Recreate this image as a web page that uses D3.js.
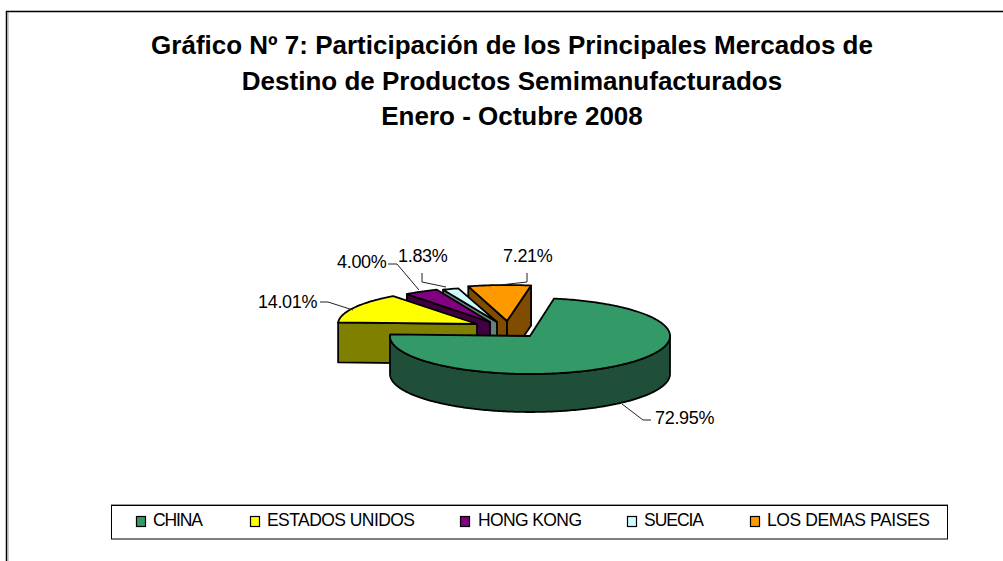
<!DOCTYPE html>
<html><head><meta charset="utf-8">
<script src="https://cdn.jsdelivr.net/npm/d3@7"></script>
<style>html,body{margin:0;padding:0;background:#fff}svg{display:block}text{font-family:"Liberation Sans",Arial,sans-serif;fill:#000}</style>
</head><body><svg id="c" width="1003" height="561"></svg>
<script>
const categories = ["CHINA","ESTADOS UNIDOS","HONG KONG","SUECIA","LOS DEMAS PAISES"];
const shares = [72.95,14.01,4.00,1.83,7.21];
const shareLabels = ["72.95%","14.01%","4.00%","1.83%","7.21%"];
const topColors = ["#339966","#ffff00","#800080","#ccffff","#ff9900"];
const sideColors = ["#1f4f38","#808000","#400040","#668080","#804d00"];
const titleLines = ["Gráfico Nº 7: Participación de los Principales Mercados de","Destino de Productos Semimanufacturados","Enero - Octubre 2008"];
// layout (not data)
const centers = [[530,336,140,38,38],[477,324,139,35,40],[490,322,138,35,40],[497,322,140,35,40],[507,321,140,36,40]];
const legendSwatchX = [136,250,460,627,750];
const legendTextX = [153,267,478,644,767];
const legendTextW = [50,148,104,60,163];
const labelPos = [[655,424],[258,308],[337,268],[398,262],[503,262]];
const leaders = [
 [[622,404],[643,420],[651,420]],
 [[353,310],[328,302],[320,302]],
 [[419,290],[397,264],[388,264]],
 [[422,273],[422,282],[446,287]],
 [[527,273],[527,282],[500,285]]
];
const svg = d3.select("#c");
// frame
svg.append("path").attr("d","M6.5,561V11.5H1003").attr("fill","none").attr("stroke","#000").attr("stroke-width",1.5);
svg.append("path").attr("d","M6,10.5H1003").attr("stroke","#bbb").attr("fill","none");
svg.append("path").attr("d","M8,12V561").attr("stroke","#999").attr("fill","none");
// title
svg.selectAll(".t").data(titleLines).join("text").attr("class","t").attr("x",512).attr("y",(d,i)=>[54,90,125][i])
 .attr("text-anchor","middle").attr("font-size",26).attr("font-weight","bold").text(d=>d);
// pie
const pie = d3.pie().sort(null).startAngle(9.9*Math.PI/180).endAngle(9.9*Math.PI/180+2*Math.PI);
const arcs = pie(shares);
const pt = (c,a,dz=0)=>[c[0]+c[2]*Math.sin(a), c[1]-c[3]*Math.cos(a)+dz];
const line = d3.line();
const order = [4,3,2,1,0];
const g = svg.append("g").attr("stroke","#000").attr("stroke-width",1.8).attr("stroke-linejoin","round");
function arcPts(c,a0,a1,dz){const n=Math.max(2,Math.ceil((a1-a0)*60));return d3.range(n+1).map(i=>pt(c,a0+(a1-a0)*i/n,dz));}
order.forEach(i=>{
  const c=centers[i],a=arcs[i],d=c[4],ap=[c[0],c[1]];
  // radial walls that face the viewer
  const walls=[];
  if(Math.sin(a.startAngle)<0) walls.push(a.startAngle);
  if(Math.sin(a.endAngle)>0) walls.push(a.endAngle);
  walls.forEach(t=>{
    const p=pt(c,t);
    g.append("path").attr("d",line([ap,p,[p[0],p[1]+d],[ap[0],ap[1]+d]])+"Z").attr("fill",sideColors[i]);
  });
  // outer wall, front-facing part
  const f0=Math.max(a.startAngle,Math.PI/2),f1=Math.min(a.endAngle,3*Math.PI/2);
  if(f1>f0){
    const top=arcPts(c,f0,f1,0),bot=arcPts(c,f0,f1,d).reverse();
    g.append("path").attr("d",line(top.concat(bot))+"Z").attr("fill",sideColors[i]);
  }
  // top
  g.append("path").attr("d",line([ap].concat(arcPts(c,a.startAngle,a.endAngle,0)))+"Z").attr("fill",topColors[i]);
});
// leaders
svg.selectAll(".l").data(leaders).join("path").attr("class","l").attr("d",d=>line(d)).attr("fill","none").attr("stroke","#222").attr("stroke-width",1);
// labels
svg.selectAll(".v").data(shareLabels).join("text").attr("class","v").attr("x",(d,i)=>labelPos[i][0]).attr("y",(d,i)=>labelPos[i][1])
 .attr("font-size",18).attr("letter-spacing",-0.3).text(d=>d);
// legend
svg.append("rect").attr("x",111.5).attr("y",505.5).attr("width",836).attr("height",33.5).attr("fill","#fff").attr("stroke","#000");
svg.append("path").attr("d","M111,504.5H948").attr("stroke","#999").attr("fill","none");
svg.selectAll(".s").data(categories).join("rect").attr("class","s").attr("x",(d,i)=>legendSwatchX[i]+.5).attr("y",516.5).attr("width",9).attr("height",10)
 .attr("fill",(d,i)=>topColors[i]).attr("stroke","#000").attr("stroke-width",1.2);
svg.selectAll(".lt").data(categories).join("text").attr("class","lt").attr("x",(d,i)=>legendTextX[i]).attr("y",526)
 .attr("font-size",17.5).attr("textLength",(d,i)=>legendTextW[i]).attr("lengthAdjust","spacing").text(d=>d);
</script></body></html>
